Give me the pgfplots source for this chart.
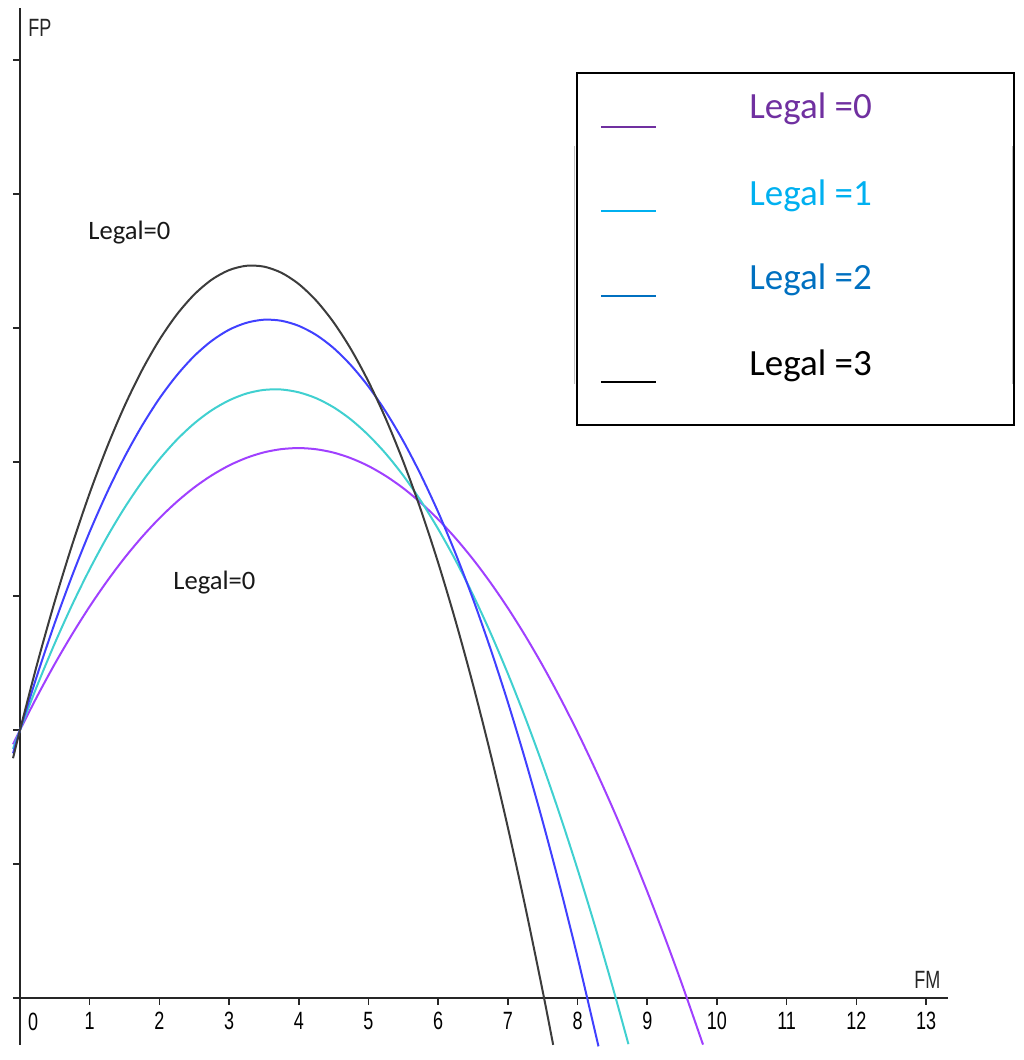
\documentclass[border=0pt]{standalone}
\usepackage{pgfplots}
\pgfplotsset{compat=1.18}
\usepackage{fontspec}
\setmainfont{Carlito}
\newfontfamily\narrow[FakeStretch=0.72]{Liberation Sans}
\definecolor{cblack}{HTML}{3C3C3C}
\definecolor{cblue}{HTML}{4040FF}
\definecolor{ccyan}{HTML}{40D0D0}
\definecolor{cpurple}{HTML}{A040FF}
\definecolor{lpurple}{HTML}{7030A0}
\definecolor{lcyan}{HTML}{00B0F0}
\definecolor{lblue}{HTML}{0070C0}
\begin{document}
\begin{tikzpicture}
\begin{axis}[
  x=34.85pt, y=67pt,
  xmin=-0.1, xmax=13.31, ymin=-0.351, ymax=7.388,
  axis lines=middle,
  axis line style={-, line width=1pt, black!85},
  xtick={1,2,3,4,5,6,7,8,9,10,11,12,13},
  xticklabels={1,2,3,4,5,6,7,8,9,10,11,12,13},
  ytick={1,2,3,4,5,6,7}, yticklabels={},
  tick align=outside, major tick length=3.5pt,
  tick style={line width=0.8pt, black!85},
  clip=false,
  /pgf/number format/assume math mode=true,
  xticklabel style={font=\narrow\fontsize{12.5}{12.5}\selectfont, text=black},
]
\addplot[cpurple, line width=1pt, smooth] coordinates {
(-0.1,1.893) (0,2) (0.25,2.255) (0.5,2.494) (0.75,2.716) (1,2.922) (1.25,3.111) (1.5,3.284) (1.75,3.440) (2,3.58) (2.25,3.703) (2.5,3.81) (2.75,3.900) (3,3.974) (3.25,4.031) (3.5,4.072) (3.75,4.096) (4,4.104) (4.25,4.095) (4.5,4.07) (4.75,4.028) (5,3.97) (5.25,3.895) (5.5,3.804) (5.75,3.696) (6,3.572) (6.25,3.431) (6.5,3.274) (6.75,3.100) (7,2.91) (7.25,2.703) (7.5,2.48) (7.75,2.240) (8,1.984) (8.25,1.711) (8.5,1.422) (8.75,1.116) (9,0.794) (9.25,0.455) (9.5,0.1) (9.8,-0.348)};
\addplot[ccyan, line width=1pt, smooth] coordinates {
(-0.1,1.859) (0,2) (0.25,2.336) (0.5,2.648) (0.75,2.936) (1,3.2) (1.25,3.441) (1.5,3.658) (1.75,3.851) (2,4.02) (2.25,4.166) (2.5,4.288) (2.75,4.386) (3,4.46) (3.25,4.511) (3.5,4.538) (3.75,4.541) (4,4.52) (4.25,4.476) (4.5,4.408) (4.75,4.316) (5,4.2) (5.25,4.061) (5.5,3.898) (5.75,3.711) (6,3.5) (6.25,3.266) (6.5,3.008) (6.75,2.726) (7,2.42) (7.25,2.091) (7.5,1.738) (7.75,1.361) (8,0.96) (8.25,0.536) (8.5,0.088) (8.73,-0.345)};
\addplot[cblue, line width=1pt, smooth] coordinates {
(-0.1,1.826) (0,2) (0.25,2.415) (0.5,2.8) (0.75,3.154) (1,3.479) (1.25,3.773) (1.5,4.037) (1.75,4.270) (2,4.474) (2.25,4.647) (2.5,4.791) (2.75,4.904) (3,4.987) (3.25,5.039) (3.5,5.062) (3.75,5.054) (4,5.016) (4.25,4.948) (4.5,4.85) (4.75,4.721) (5,4.563) (5.25,4.374) (5.5,4.155) (5.75,3.905) (6,3.626) (6.25,3.316) (6.5,2.977) (6.75,2.607) (7,2.207) (7.25,1.776) (7.5,1.316) (7.75,0.825) (8,0.304) (8.3,-0.361)};
\addplot[cblack, line width=1pt, smooth] coordinates {
(-0.1,1.789) (0,2) (0.25,2.5005) (0.5,2.962) (0.75,3.3845) (1,3.768) (1.25,4.1125) (1.5,4.418) (1.75,4.6845) (2,4.912) (2.25,5.1005) (2.5,5.25) (2.75,5.3605) (3,5.432) (3.25,5.4645) (3.5,5.458) (3.75,5.4125) (4,5.328) (4.25,5.2045) (4.5,5.042) (4.75,4.8405) (5,4.6) (5.25,4.3205) (5.5,4.002) (5.75,3.6445) (6,3.248) (6.25,2.8125) (6.5,2.338) (6.75,1.8245) (7,1.272) (7.25,0.6805) (7.5,0.05) (7.65,-0.35)};
% zero label
\node[anchor=north, font=\narrow\fontsize{12.5}{12.5}\selectfont, text=black, inner sep=0pt] at (axis cs:0.19,-0.112) {0};
% axis names
\node[anchor=base west, inner sep=0pt, font=\narrow\fontsize{12.5}{12.5}\selectfont, text=black!85] at (axis cs:0.115,7.172) {FP};
\node[anchor=base west, inner sep=0pt, font=\narrow\fontsize{12.5}{12.5}\selectfont, text=black!85] at (axis cs:12.826,0.067) {FM};
% in-plot labels
\node[anchor=base west, inner sep=0pt, font=\fontsize{13.3}{15}\selectfont, text=black!90] at (axis cs:0.976,5.664) {Legal=0};
\node[anchor=base west, inner sep=0pt, font=\fontsize{13.3}{15}\selectfont, text=black!90] at (axis cs:2.195,3.052) {Legal=0};
% legend box
\draw[line width=0.7pt, black] (axis cs:7.991,6.903) rectangle (axis cs:14.261,4.276);
\draw[line width=0.5pt, black!25] (axis cs:7.955,6.356) -- (axis cs:7.955,4.582);
\draw[line width=0.5pt, black!25] (axis cs:14.247,6.356) -- (axis cs:14.247,4.582);
\draw[line width=0.7pt, lpurple] (axis cs:8.336,6.5) -- (axis cs:9.125,6.5);
\draw[line width=0.7pt, lcyan] (axis cs:8.336,5.873) -- (axis cs:9.125,5.873);
\draw[line width=0.7pt, lblue] (axis cs:8.336,5.239) -- (axis cs:9.125,5.239);
\draw[line width=0.7pt, black] (axis cs:8.336,4.597) -- (axis cs:9.125,4.597);
\node[anchor=base west, inner sep=0pt, font=\fontsize{18.5}{20}\selectfont, text=lpurple] at (axis cs:10.459,6.567) {Legal =0};
\node[anchor=base west, inner sep=0pt, font=\fontsize{18.5}{20}\selectfont, text=lcyan] at (axis cs:10.459,5.918) {Legal =1};
\node[anchor=base west, inner sep=0pt, font=\fontsize{18.5}{20}\selectfont, text=lblue] at (axis cs:10.459,5.291) {Legal =2};
\node[anchor=base west, inner sep=0pt, font=\fontsize{18.5}{20}\selectfont, text=black] at (axis cs:10.459,4.649) {Legal =3};
\coordinate (bl) at (axis cs:-0.287,-0.463);
\coordinate (tr) at (axis cs:14.405,7.448);
\end{axis}
\pgfresetboundingbox
\useasboundingbox (bl) rectangle (tr);
\end{tikzpicture}
\end{document}
